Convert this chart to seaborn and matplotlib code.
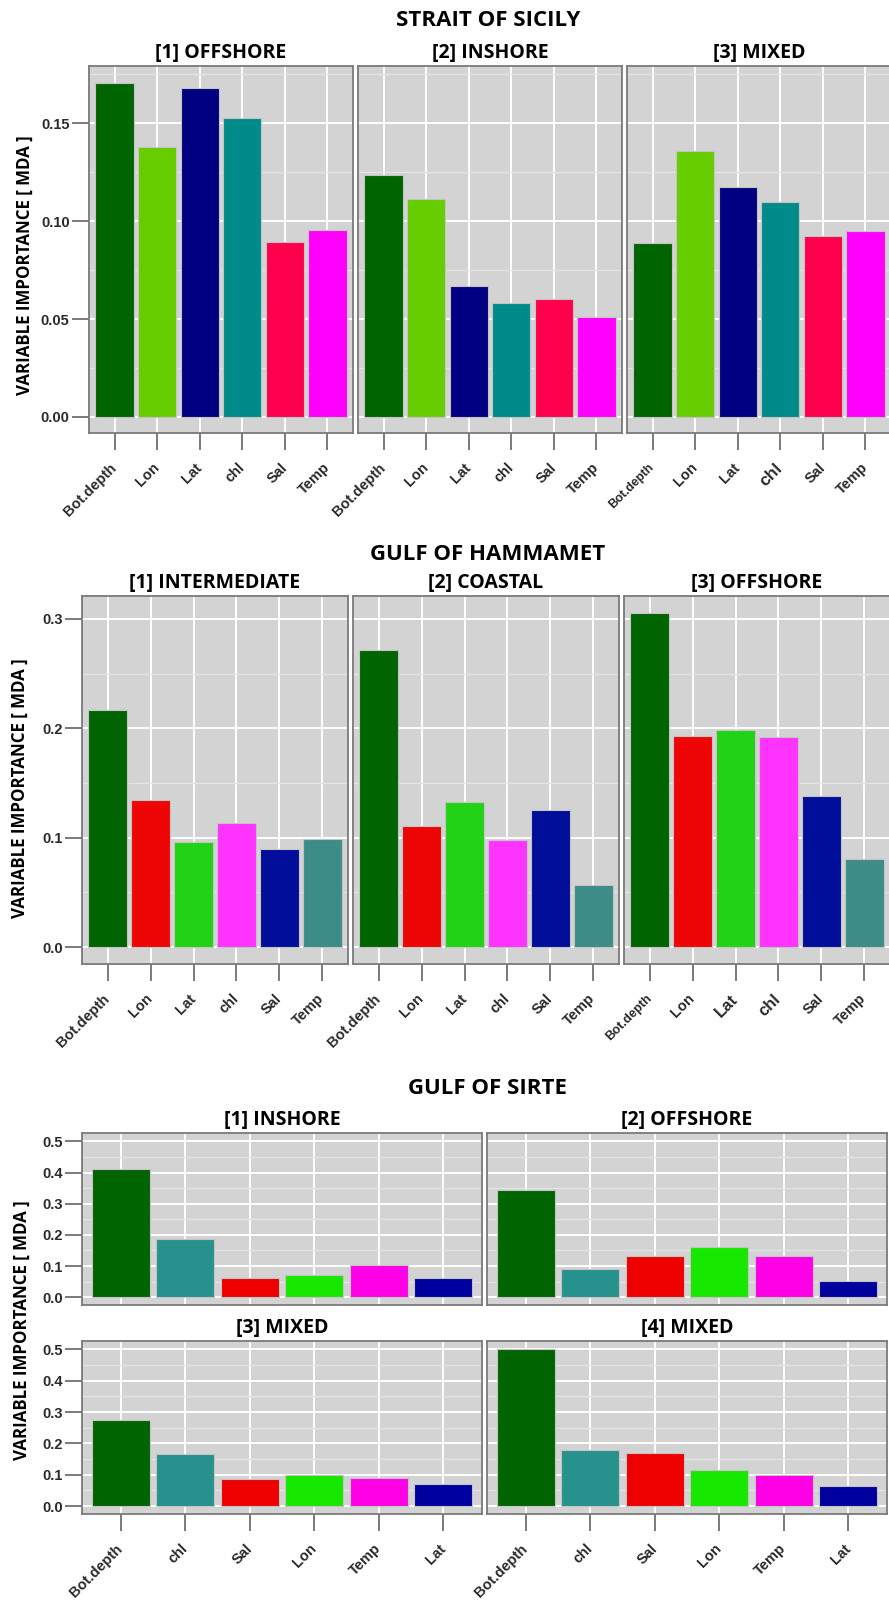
import numpy as np
import pandas as pd
import matplotlib.pyplot as plt
import seaborn as sns
from matplotlib.ticker import MultipleLocator, FormatStrFormatter

# Style
sns.set_theme(style="darkgrid", rc={
    "axes.facecolor": "#D3D3D3",
    "axes.edgecolor": "#7A7A7A",
    "grid.color": "white",
})
plt.rcParams['font.family'] = ['Liberation Sans', 'DejaVu Sans']

W, H = 889, 1600

# ---- Données ----
sicily_vars = ['Bot.depth', 'Lon', 'Lat', 'chl', 'Sal', 'Temp']
sicily_offshore = [0.1707, 0.1379, 0.1679, 0.1529, 0.0892, 0.0956]
sicily_inshore = [0.1237, 0.1115, 0.0670, 0.0580, 0.0601, 0.0509]
sicily_mixed = [0.0889, 0.1360, 0.1177, 0.1098, 0.0925, 0.0951]
sicily_colors = ['#006400', '#66CD00', '#000080', '#008B8B', '#FF004C', '#FF00FF']
sicily_titles = ['[1] OFFSHORE', '[2] INSHORE', '[3] MIXED']

hammamet_vars = ['Bot.depth', 'Lon', 'Lat', 'chl', 'Sal', 'Temp']
hammamet_intermediate = [0.2170, 0.1345, 0.0963, 0.1134, 0.0899, 0.0988]
hammamet_coastal = [0.2716, 0.1107, 0.1326, 0.0976, 0.1250, 0.0570]
hammamet_offshore = [0.3055, 0.1933, 0.1988, 0.1924, 0.1378, 0.0808]
hammamet_colors = ['#006400', '#EE0606', '#22D315', '#FF33FF', '#000E9A', '#3E8C87']
hammamet_titles = ['[1] INTERMEDIATE', '[2] COASTAL', '[3] OFFSHORE']

sirte_vars = ['Bot.depth', 'chl', 'Sal', 'Lon', 'Temp', 'Lat']
sirte_inshore = [0.411, 0.187, 0.062, 0.070, 0.104, 0.062]
sirte_offshore = [0.344, 0.091, 0.131, 0.160, 0.132, 0.053]
sirte_mixed3 = [0.275, 0.168, 0.087, 0.098, 0.090, 0.071]
sirte_mixed4 = [0.503, 0.180, 0.171, 0.114, 0.100, 0.063]
sirte_colors = ['#006400', '#27918E', '#EE0000', '#17E800', '#FF00E6', '#00009F']
sirte_titles = ['[1] INSHORE', '[2] OFFSHORE', '[3] MIXED', '[4] MIXED']

fig = plt.figure(figsize=(W / 100, H / 100), dpi=100)
fig.patch.set_facecolor('white')

TITLE_FONT = ['Open Sans', 'DejaVu Sans']
TICK_COLOR = '#707070'
LABEL_COLOR = '#2A2A2A'
LABEL_SIZE = 10.5


def panel(box, names, values, colors, ylim, major, minor, fmt, title,
          show_y=False, show_x=True, label_sizes=None):
    l, t, r, b = box
    ax = fig.add_axes([l / W, 1 - b / H, (r - l) / W, (b - t) / H])
    df = pd.DataFrame({'var': names, 'val': values})
    sns.barplot(data=df, x='var', y='val', hue='var', palette=colors,
                width=0.9, saturation=1, legend=False, ax=ax,
                edgecolor='#C4C4C4', linewidth=0.8)
    ax.set_axisbelow(True)
    ax.set_xlim(-0.6, len(names) - 0.4)
    ax.set_ylim(*ylim)
    ax.yaxis.set_major_locator(MultipleLocator(major))
    ax.yaxis.set_minor_locator(MultipleLocator(minor))
    ax.yaxis.set_major_formatter(FormatStrFormatter(fmt))
    ax.grid(which='major', color='white', lw=1.4)
    ax.grid(which='minor', axis='y', color='#E4E4E4', lw=0.9)
    for s in ax.spines.values():
        s.set_visible(True)
        s.set_color('#7A7A7A')
        s.set_linewidth(1.3)
    ax.set_xlabel('')
    ax.set_ylabel('')
    ax.tick_params(axis='y', which='major', length=12.5 if show_y else 0,
                   width=1.3, color=TICK_COLOR, left=show_y, labelleft=show_y,
                   pad=1.5, labelsize=LABEL_SIZE, labelcolor=LABEL_COLOR)
    ax.tick_params(axis='y', which='minor', length=0)
    ax.tick_params(axis='x', which='major', length=12.5 if show_x else 0,
                   width=1.3, color=TICK_COLOR, bottom=show_x, labelbottom=show_x,
                   pad=11, labelsize=LABEL_SIZE, labelcolor=LABEL_COLOR)
    if show_y:
        for lab in ax.get_yticklabels():
            lab.set_fontweight('bold')
    if show_x:
        ax.set_xticks(range(len(names)))
        ax.set_xticklabels(names, rotation=45, ha='right', va='center',
                           rotation_mode='anchor', fontweight='bold')
        if label_sizes:
            for lab in ax.get_xticklabels():
                if lab.get_text() in label_sizes:
                    lab.set_fontsize(label_sizes[lab.get_text()])
    ax.set_title(title, fontsize=14, fontweight='bold', family=TITLE_FONT,
                 pad=6, color='black')
    return ax


def ylabel(x, y):
    fig.text(x / W, 1 - y / H, 'VARIABLE IMPORTANCE [ MDA ]', rotation=90,
             ha='center', va='center', fontsize=12.2, fontweight='bold',
             family=TITLE_FONT, color='black')


def section_title(y, text):
    fig.text(488 / W, 1 - y / H, text, ha='center', va='center',
             fontsize=16, fontweight='bold', family=TITLE_FONT, color='black')


# 1. Strait of Sicily
section_title(20, 'STRAIT OF SICILY')
sic_boxes = [(89, 66, 353, 433), (358, 66, 622, 433), (627, 66, 891, 433)]
sic_label_sizes = [None, None, {'Bot.depth': 9.0, 'chl': 12.5}]
for i, (vals, bx) in enumerate(zip([sicily_offshore, sicily_inshore, sicily_mixed], sic_boxes)):
    panel(bx, sicily_vars, vals, sicily_colors, (-0.0082, 0.1793), 0.05, 0.025,
          '%.2f', sicily_titles[i], show_y=(i == 0), label_sizes=sic_label_sizes[i])
ylabel(25, 265)

# 2. Gulf of Hammamet
section_title(555, 'GULF OF HAMMAMET')
ham_boxes = [(82, 596, 348, 964), (353, 596, 619, 964), (624, 596, 890, 964)]
ham_label_sizes = [None, None, {'Bot.depth': 9.2, 'Lat': 12, 'chl': 12}]
for i, (vals, bx) in enumerate(zip([hammamet_intermediate, hammamet_coastal, hammamet_offshore], ham_boxes)):
    panel(bx, hammamet_vars, vals, hammamet_colors, (-0.0155, 0.321), 0.1, 0.05,
          '%.1f', hammamet_titles[i], show_y=(i == 0), label_sizes=ham_label_sizes[i])
ylabel(20, 788)

# 3. Gulf of Sirte
section_title(1089, 'GULF OF SIRTE')
sir_boxes = [(82, 1133, 482, 1305), (487, 1133, 887, 1305),
             (82, 1341, 482, 1514), (487, 1341, 887, 1514)]
sir_vals = [sirte_inshore, sirte_offshore, sirte_mixed3, sirte_mixed4]
for i, (vals, bx) in enumerate(zip(sir_vals, sir_boxes)):
    panel(bx, sirte_vars, vals, sirte_colors, (-0.025, 0.527), 0.1, 0.05,
          '%.1f', sirte_titles[i], show_y=(i % 2 == 0), show_x=(i >= 2))
ylabel(22, 1330)

plt.savefig('out.png', dpi=100, facecolor='white')
plt.close()
